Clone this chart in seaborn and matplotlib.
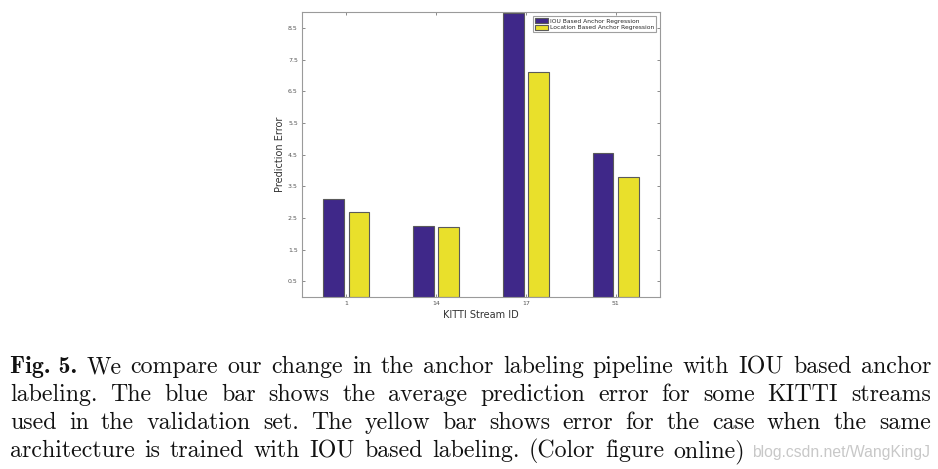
import matplotlib
matplotlib.use("Agg")
import matplotlib.pyplot as plt
import seaborn as sns
import pandas as pd

streams = ["1", "14", "17", "51"]
iou_err = [3.09, 2.25, 8.98, 4.55]
loc_err = [2.69, 2.20, 7.09, 3.78]
series_names = ["IOU Based Anchor Regression", "Location Based Anchor Regression"]
ytick_vals = [0.5, 1.5, 2.5, 3.5, 4.5, 5.5, 6.5, 7.5, 8.5]

caption_lines = [
    "We compare our change in the anchor labeling pipeline with IOU based anchor",
    "labeling. The blue bar shows the average prediction error for some KITTI streams",
    "used in the validation set. The yellow bar shows error for the case when the same",
    "architecture is trained with IOU based labeling. (Color figure online)",
]
caption_lead = "Fig. 5."
watermark = "blog.csdn.net/WangKingJ"

df = pd.DataFrame({
    "stream": streams * 2,
    "err": iou_err + loc_err,
    "series": [series_names[0]] * len(streams) + [series_names[1]] * len(streams),
})

sns.set_theme(style="white")
fig = plt.figure(figsize=(9.38, 4.69), dpi=100)
ax = fig.add_axes([302 / 938, 1 - 297 / 469, 358 / 938, 285 / 469])

palette = {series_names[0]: "#3F2889", series_names[1]: "#E9E02B"}
sns.barplot(data=df, x="stream", y="err", hue="series", order=streams,
            hue_order=series_names, palette=palette, width=0.57, gap=0.19,
            edgecolor="#5a5a5a", linewidth=0.8, saturation=1, ax=ax, errorbar=None)

ax.set_xlim(-0.49, 3.49)
ax.set_ylim(0, 9.0)
ax.set_yticks(ytick_vals)
ax.set_yticklabels([str(v) for v in ytick_vals])
ax.tick_params(axis="both", which="both", direction="in", length=2.5, width=0.6,
               colors="#777777", labelsize=4.5, top=True, right=True,
               bottom=True, left=True, pad=3)
for lbl in ax.get_xticklabels() + ax.get_yticklabels():
    lbl.set_color("#555555")
for s in ax.spines.values():
    s.set_color("#9a9a9a")
    s.set_linewidth(0.8)
ax.set_xlabel("KITTI Stream ID", fontsize=7, color="#333333", labelpad=3)
ax.set_ylabel("Prediction Error", fontsize=7, color="#333333", labelpad=2)

leg = ax.legend(loc="upper right", fontsize=4.3, frameon=True, fancybox=False,
                handlelength=2.3, handleheight=1.0, borderpad=0.3, labelspacing=0.15,
                handletextpad=0.25, borderaxespad=0.7, title=None)
leg.get_frame().set_edgecolor("#888888")
leg.get_frame().set_linewidth(0.8)

# caption, justified
fig.canvas.draw()
renderer = fig.canvas.get_renderer()
W, H = 938, 469
left_px = 10
line_right = [931, 931, 931, 745]
fs = 17.2
baselines = [373, 401, 429, 457]
for i, line in enumerate(caption_lines):
    y = 1 - baselines[i] / H
    tokens = []
    if i == 0:
        tokens.append((caption_lead, "cmb10"))
    tokens += [(w, "cmr10") for w in line.split(" ")]
    texts = []
    widths = []
    for tok, fam in tokens:
        t = fig.text(0, y, tok, fontsize=fs, family=fam, color="#111111",
                     ha="left", va="baseline")
        bb = t.get_window_extent(renderer)
        texts.append(t)
        widths.append(bb.width)
    total = sum(widths)
    space = (line_right[i] - left_px - total) / (len(tokens) - 1)
    x = left_px
    for t, w in zip(texts, widths):
        t.set_x(x / W)
        x += w + space

fig.text(930 / W, 1 - 457 / H, watermark, fontsize=11.3, color="#c8c8c8",
         ha="right", va="baseline", family="Liberation Sans")

fig.savefig("out.png", dpi=100)
